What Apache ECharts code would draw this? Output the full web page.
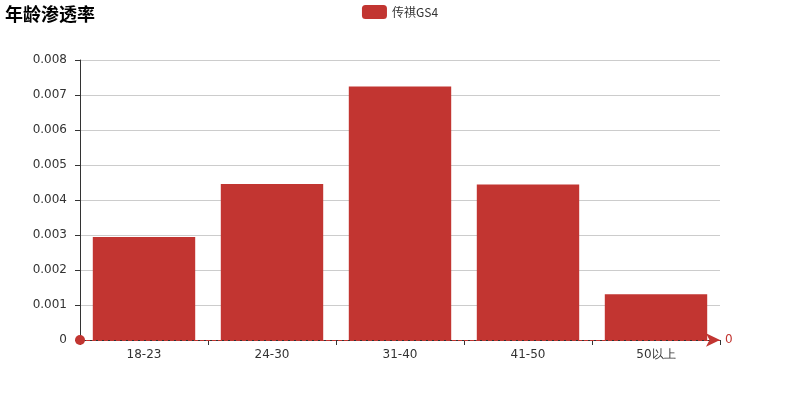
<!DOCTYPE html>
<html>
<head>
<meta charset="utf-8">
<script src="https://cdn.jsdelivr.net/npm/echarts@6/dist/echarts.min.js"></script>
<style>html,body{margin:0;padding:0;background:#fff;}#main{width:800px;height:400px;}</style>
</head>
<body>
<div id="main"></div>
<script>
var categories = ['18-23', '24-30', '31-40', '41-50', '50以上'];
var seriesName = '传祺GS4';
var values = [0.00294, 0.00446, 0.00724, 0.00444, 0.00131];
var markValue = 0;

var chart = echarts.init(document.getElementById('main'));
chart.setOption({
  animation: false,
  color: ['#c23531'],
  title: {
    text: '年龄渗透率',
    left: 0, top: 0,
    textStyle: { fontSize: 18, fontWeight: 'bold', color: '#000', fontFamily: 'Noto Sans CJK SC' }
  },
  legend: {
    data: [seriesName],
    top: 0, left: 'center',
    icon: 'roundRect', itemWidth: 25, itemHeight: 14,
    textStyle: { fontSize: 12, color: '#333', fontFamily: 'Noto Sans CJK SC' }
  },
  grid: { left: 80, right: 80, top: 60, bottom: 60, containLabel: false },
  xAxis: {
    type: 'category',
    data: categories,
    boundaryGap: true,
    axisLine: { show: true, lineStyle: { color: '#333' } },
    axisTick: { show: true, alignWithLabel: false, length: 5 },
    axisLabel: { color: '#333', fontSize: 12, margin: 9, fontFamily: 'DejaVu Sans' }
  },
  yAxis: {
    type: 'value',
    min: 0, max: 0.008, interval: 0.001,
    axisLine: { show: true, lineStyle: { color: '#333' } },
    axisTick: { show: true, length: 5 },
    axisLabel: { color: '#333', fontSize: 12, margin: 13, fontFamily: 'DejaVu Sans' },
    splitLine: { show: true, lineStyle: { color: '#ccc' } }
  },
  series: [{
    name: seriesName,
    type: 'bar',
    data: values,
    barCategoryGap: '20%',
    itemStyle: { color: '#c23531' },
    markLine: {
      symbol: ['circle', 'arrow'],
      symbolSize: [10, 14],
      lineStyle: { type: 'dashed', color: '#c23531', width: 1 },
      label: { show: true, position: 'end', color: '#c23531', fontSize: 12, fontFamily: 'DejaVu Sans' },
      data: [{ yAxis: markValue }]
    }
  }]
});
</script>
</body>
</html>
